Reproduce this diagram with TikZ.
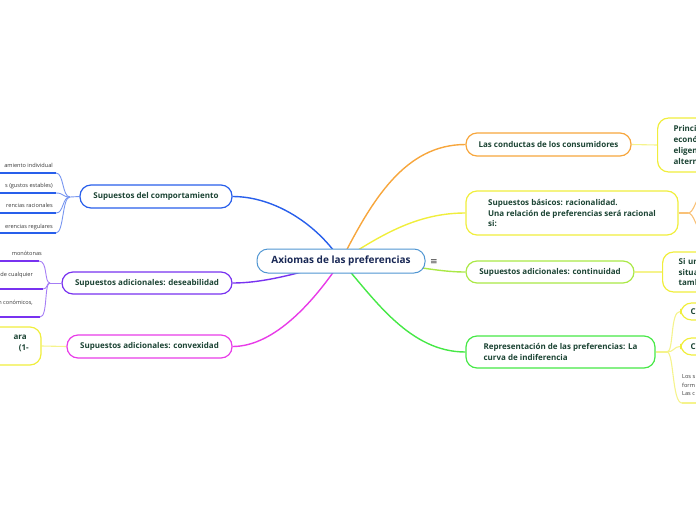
\documentclass[tikz,border=0pt]{standalone}
\usepackage{fontspec}
\setmainfont{Open Sans}
\newfontfamily\symfont{DejaVu Sans}
\usetikzlibrary{backgrounds}
\definecolor{cblue}{RGB}{40,95,235}
\definecolor{cblueL}{RGB}{120,150,240}
\definecolor{corange}{RGB}{247,166,60}
\definecolor{cyellow}{RGB}{240,238,60}
\definecolor{cyellowL}{RGB}{245,243,140}
\definecolor{clime}{RGB}{170,232,70}
\definecolor{cgreen}{RGB}{70,232,70}
\definecolor{cmag}{RGB}{232,60,232}
\definecolor{cpurp}{RGB}{120,50,240}
\definecolor{cpurpL}{RGB}{165,125,245}
\definecolor{ccentral}{RGB}{80,150,210}
\definecolor{txtg}{RGB}{28,68,52}
\definecolor{txtn}{RGB}{25,40,85}
\definecolor{leafc}{RGB}{55,55,55}
\begin{document}
\begin{tikzpicture}[x=1pt,y=-1pt,
  box/.style={draw, rounded corners=11pt, fill=white, line width=1.2pt, inner sep=0pt,
    font=\fontsize{8}{10.8}\selectfont\bfseries, text=txtg},
  leaf/.style={inner sep=0pt, font=\fontsize{5.6}{8.5}\selectfont, text=leafc},
  conn/.style={line width=1.4pt},
  sub/.style={line width=1.1pt},
  uline/.style={line width=1.2pt},
  fan/.style={line width=0.9pt}]
\useasboundingbox (0,0) rectangle (696,520);

% central
\node[box, draw=ccentral, line width=1pt, minimum width=168pt, minimum height=24pt,
  font=\fontsize{10}{12}\selectfont\bfseries, text=txtn] (ax) at (341,261) {Axiomas de las preferencias};
\node[font=\symfont\fontsize{9}{9}\selectfont, text=leafc, inner sep=0pt] (menu) at (434,262) {≡};

% right branches
\node[box, draw=corange, minimum width=165pt, minimum height=23pt] (cond) at (548.5,144.5) {Las conductas de los consumidores};
\node[box, draw=cyellow, minimum width=212pt, minimum height=44pt, align=left] (rac) at (572,213)
  {Supuestos básicos: racionalidad.\\Una relación de preferencias será racional\\si:};
\node[box, draw=clime, minimum width=168pt, minimum height=22pt] (cont) at (550,272) {Supuestos adicionales: continuidad};
\node[box, draw=cgreen, minimum width=189pt, minimum height=32pt, align=left] (rep) at (560.5,352)
  {Representación de las preferencias: La\\curva de indiferencia};

% right children
\node[box, draw=cyellow, anchor=west, text width=60pt, inner xsep=16pt, minimum height=54pt, align=left] (condc) at (657,145)
  {Princip\\econó\\eligen\\altern};
\node[box, draw=cyellow, anchor=west, text width=60pt, inner xsep=16pt, minimum height=40pt, align=left] (contc) at (662,272)
  {Si un\\situa\\tamb};
\node[box, draw=cyellow, anchor=west, text width=40pt, inner xsep=10pt, minimum height=17pt, align=left] (c1) at (680,311.5) {C};
\node[box, draw=cyellow, anchor=west, text width=40pt, inner xsep=10pt, minimum height=17pt, align=left] (c2) at (680,346.5) {C};
\node[leaf, anchor=north west, align=left] (lost) at (682,374.5) {Los s\\form\\Las c};

% left branches
\node[box, draw=cblue, minimum width=152pt, minimum height=23pt] (comp) at (156,196.5) {Supuestos del comportamiento};
\node[box, draw=cpurp, minimum width=170pt, minimum height=22pt] (des) at (147,283) {Supuestos adicionales: deseabilidad};
\node[box, draw=cmag, minimum width=165pt, minimum height=23pt] (conv) at (149.5,346.5) {Supuestos adicionales: convexidad};

% left child of convexidad
\node[box, draw=cyellow, minimum width=100pt, minimum height=38pt] (convc) at (-9,346) {};
\node[inner sep=0pt, font=\fontsize{8}{10.8}\selectfont\bfseries, text=txtg, anchor=base east] (cvt1) at (27,339.5) {ara};
\node[inner sep=0pt, font=\fontsize{8}{10.8}\selectfont\bfseries, text=txtg, anchor=base east] (cvt2) at (29,350.5) {(1-};

% blue leaves
\node[leaf, anchor=base east] (bt1) at (53,167.5) {amiento individual};
\node[leaf, anchor=base east] (bt2) at (53,187.5) {s (gustos estables)};
\node[leaf, anchor=base east] (bt3) at (53,207.5) {rencias racionales};
\node[leaf, anchor=base east] (bt4) at (53,228) {erencias regulares};
% purple leaves
\node[leaf, anchor=base east] (pt1) at (42,255.5) {monótonas};
\node[leaf, anchor=base east] (pt2) at (33,276) {de cualquier};
\node[leaf, anchor=base east] (pt3) at (33,304.5) {n conómicos,};

% coordinates
\coordinate (jb) at (70,197);
\coordinate (jp) at (50,283);
\foreach \i/\yy in {1/173,2/193,3/213,4/233}{
  \coordinate (bl\i) at (0,\yy);
  \coordinate (bu\i) at (56,\yy);
  \coordinate (bc\i) at (64,\yy);
}
\coordinate (pl1) at (0,261); \coordinate (pu1) at (39,261);
\coordinate (pl2) at (0,289); \coordinate (pu2) at (43,289);
\coordinate (pl3) at (0,317); \coordinate (pu3) at (40,317);
\coordinate (rj) at (688,213);
\coordinate (ro1) at (702,195);
\coordinate (ro2) at (702,231);
\coordinate (gj) at (667,352);
\coordinate (lu) at (682,403);
\coordinate (lu2) at (700,403);

\begin{scope}[on background layer]
  \draw[conn, cblue] (ax.center) .. controls (318,225) and (275,196.5) .. (comp.east);
  \draw[conn, corange] (ax.center) .. controls (372,200) and (405,144.5) .. (cond.west);
  \draw[conn, cyellow] (ax.center) .. controls (385,232) and (420,213) .. (rac.west);
  \draw[conn, clime] (ax.center) .. controls (400,261) and (430,272) .. (cont.west);
  \draw[conn, cgreen] (ax.center) .. controls (375,300) and (410,352) .. (rep.west);
  \draw[conn, cmag] (ax.center) .. controls (315,300) and (275,346.5) .. (conv.east);
  \draw[conn, cpurp] (ax.center) .. controls (290,276) and (260,283) .. (des.east);
  % right secondary
  \draw[sub, cyellowL] (cond.east) -- (condc.west);
  \draw[sub, cyellowL] (cont.east) -- (contc.west);
  \draw[sub, corange!70] (rac.east) -- (rj);
  \draw[sub, corange!70] (rj) .. controls (694,213) and (695,199) .. (ro1);
  \draw[sub, corange!70] (rj) .. controls (694,213) and (695,227) .. (ro2);
  \draw[sub, cyellowL] (rep.east) -- (gj);
  \draw[sub, cyellowL] (gj) .. controls (674,352) and (670,311.5) .. (c1.west);
  \draw[sub, cyellowL] (gj) .. controls (674,352) and (674,346.5) .. (c2.west);
  \draw[sub, cyellowL] (gj) .. controls (674,352) and (672,403) .. (lu);
  \draw[sub, cyellowL] (lu) -- (lu2);
  % left secondary
  \draw[sub, cyellowL] (convc.east) -- (conv.west);
  \draw[fan, cblueL] (comp.west) -- (jb);
  \foreach \i in {1,2,3,4}{
    \draw[uline, cblue] (bl\i) -- (bu\i);
    \draw[fan, cblueL] (bu\i) .. controls (bc\i) and (62,197) .. (jb);
  }
  \draw[fan, cpurpL] (des.west) -- (jp);
  \foreach \i in {1,2,3}{
    \draw[uline, cpurp] (pl\i) -- (pu\i);
  }
  \draw[fan, cpurpL] (pu1) .. controls (48,261) and (44,283) .. (jp);
  \draw[fan, cpurpL] (pu2) .. controls (48,289) and (46,283) .. (jp);
  \draw[fan, cpurpL] (pu3) .. controls (48,317) and (44,283) .. (jp);
\end{scope}
\end{tikzpicture}
\end{document}
